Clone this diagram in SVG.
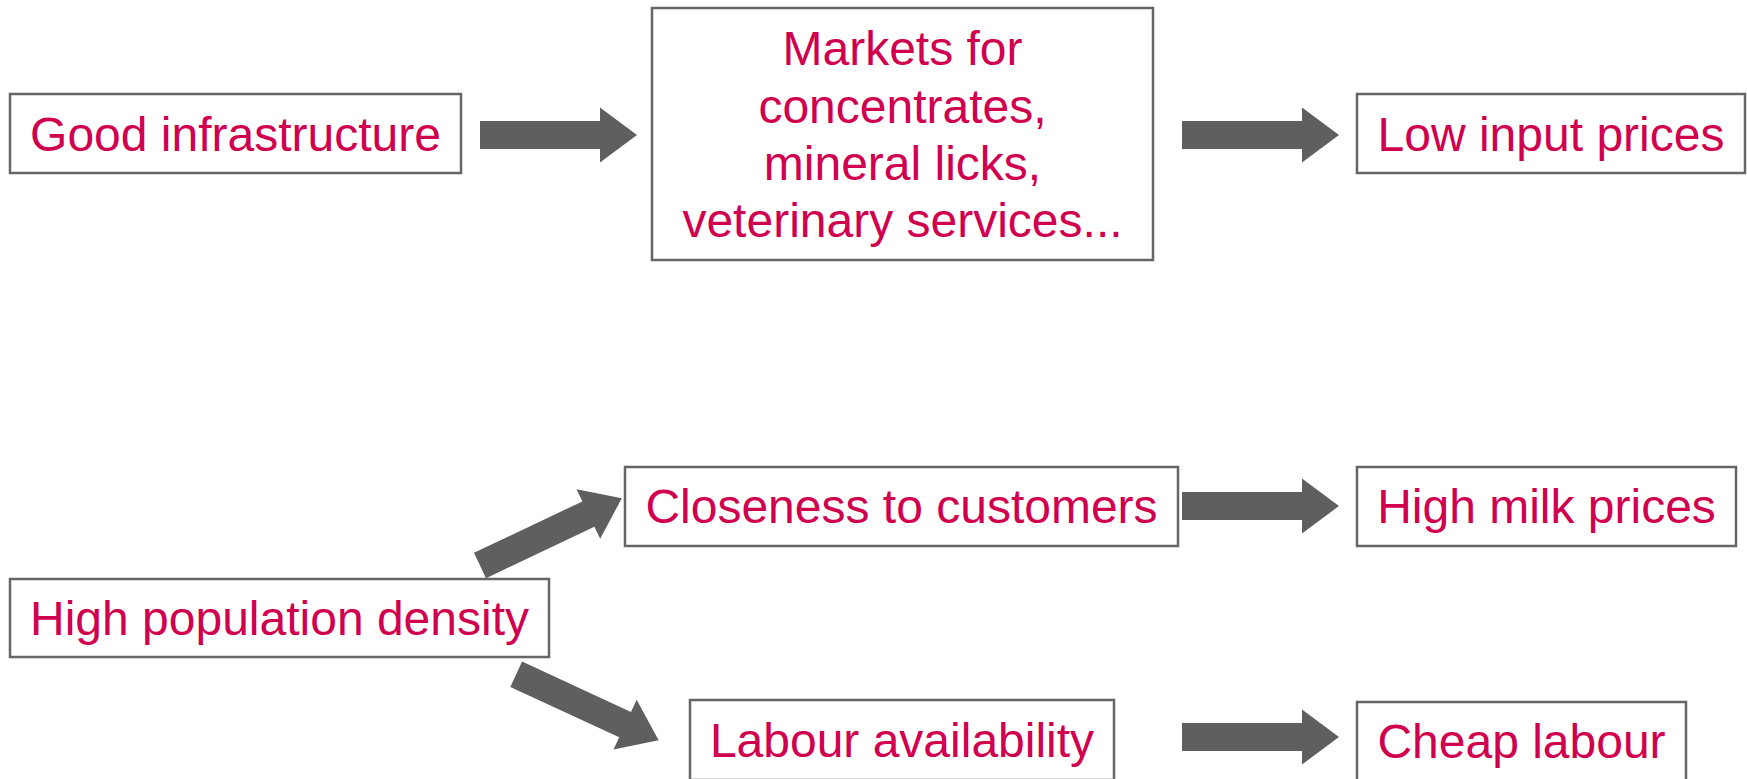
<svg xmlns="http://www.w3.org/2000/svg" width="1747" height="779" viewBox="0 0 1747 779">
<style>
.box{fill:#ffffff;stroke:#666666;stroke-width:2.5}
.lbl{font-family:"Liberation Sans",Arial,sans-serif;font-size:48px;fill:#d0004f;text-anchor:middle}
.arr{fill:#5f5f5f}
</style>
<defs>
<path id="arrow" d="M0,-14 L120,-14 L120,-27.5 L157,0 L120,27.5 L120,14 L0,14 Z"/>
</defs>
<rect width="1747" height="779" fill="#ffffff"/>
<g id="connectors">
<use href="#arrow" class="arr" transform="translate(480,135)"/>
<use href="#arrow" class="arr" transform="translate(1182,135)"/>
<use href="#arrow" class="arr" transform="translate(1182,506)"/>
<use href="#arrow" class="arr" transform="translate(1182,737)"/>
<use href="#arrow" class="arr" transform="translate(480,565.5) rotate(-25.4)"/>
<use href="#arrow" class="arr" transform="translate(516.2,674.2) rotate(24.85)"/>
</g>
<g id="good-infrastructure">
<rect class="box" x="10" y="94" width="451" height="79"/>
<text class="lbl" x="235.5" y="151">Good infrastructure</text>
</g>
<g id="markets">
<rect class="box" x="652" y="8" width="501" height="252"/>
<text class="lbl" x="902.5" y="65">Markets for</text>
<text class="lbl" x="902.5" y="122.5">concentrates,</text>
<text class="lbl" x="902.5" y="180">mineral licks,</text>
<text class="lbl" x="902.5" y="237">veterinary services...</text>
</g>
<g id="low-input-prices">
<rect class="box" x="1357" y="94" width="388" height="79"/>
<text class="lbl" x="1551" y="151">Low input prices</text>
</g>
<g id="closeness">
<rect class="box" x="625" y="467" width="553" height="79"/>
<text class="lbl" x="901.5" y="523">Closeness to customers</text>
</g>
<g id="high-milk-prices">
<rect class="box" x="1357" y="467" width="379" height="79"/>
<text class="lbl" x="1546.5" y="523">High milk prices</text>
</g>
<g id="high-population-density">
<rect class="box" x="10" y="579" width="539" height="78"/>
<text class="lbl" x="279.5" y="635">High population density</text>
</g>
<g id="labour-availability">
<rect class="box" x="690" y="700" width="424" height="80"/>
<text class="lbl" x="902" y="757">Labour availability</text>
</g>
<g id="cheap-labour">
<rect class="box" x="1357" y="702" width="329" height="80"/>
<text class="lbl" x="1521.5" y="758">Cheap labour</text>
</g>
</svg>
